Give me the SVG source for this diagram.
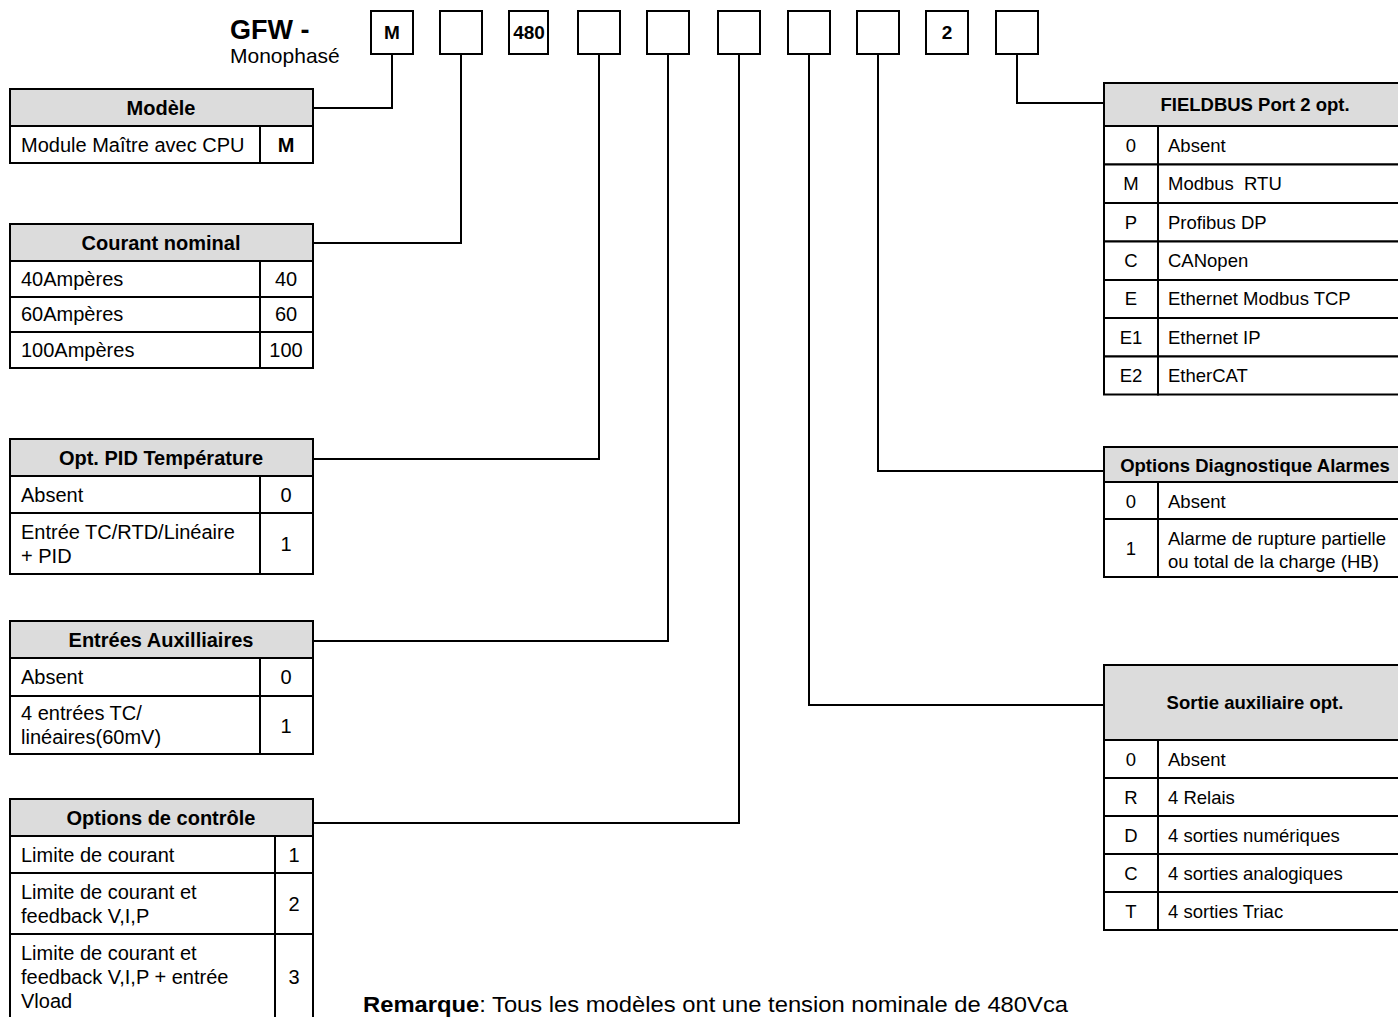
<svg xmlns="http://www.w3.org/2000/svg" width="1398" height="1017" viewBox="0 0 1398 1017">
<style>
text{font-family:"Liberation Sans",Arial,sans-serif;fill:#000}
.b{font-weight:bold}
.t{font-size:20px}
.tr{font-size:18.5px}
.h{font-size:20px;font-weight:bold}
.hr{font-size:18.5px;font-weight:bold}
.box{fill:#fff;stroke:#000;stroke-width:2}
.hd{fill:#dcdcdc;stroke:#000;stroke-width:2}
.cell{fill:#fff;stroke:#000;stroke-width:2}
.ln{fill:none;stroke:#000;stroke-width:2}
.c{text-anchor:middle}
</style>
<rect width="1398" height="1017" fill="#fff"/>
<g id="title">
<text x="230" y="39" class="b" style="font-size:27px">GFW -</text>
<text x="230" y="63" style="font-size:21px">Monophasé</text>
</g>
<g id="code">
<rect class="box" x="371" y="11" width="42" height="43"/><text x="392" y="39" class="b c" style="font-size:19px">M</text>
<rect class="box" x="440" y="11" width="42" height="43"/>
<rect class="box" x="509" y="11" width="39" height="43"/><text x="529" y="39" class="b c" style="font-size:19px">480</text>
<rect class="box" x="578" y="11" width="42" height="43"/>
<rect class="box" x="647" y="11" width="42" height="43"/>
<rect class="box" x="718" y="11" width="42" height="43"/>
<rect class="box" x="788" y="11" width="42" height="43"/>
<rect class="box" x="857" y="11" width="42" height="43"/>
<rect class="box" x="926" y="11" width="42" height="43"/><text x="947" y="39" class="b c" style="font-size:19px">2</text>
<rect class="box" x="996" y="11" width="42" height="43"/>
</g>
<g id="connectors">
<polyline class="ln" points="392,54 392,108 313,108"/>
<polyline class="ln" points="461,54 461,243 313,243"/>
<polyline class="ln" points="599,54 599,459 313,459"/>
<polyline class="ln" points="668,54 668,641 313,641"/>
<polyline class="ln" points="739,54 739,823 313,823"/>
<polyline class="ln" points="809,54 809,705 1104,705"/>
<polyline class="ln" points="878,54 878,471 1104,471"/>
<polyline class="ln" points="1017,54 1017,103 1104,103"/>
</g>
<g id="modele">
<rect class="hd" x="10" y="89" width="303" height="37"/>
<text x="161" y="115" class="h c">Modèle</text>
<rect class="cell" x="10" y="126" width="250" height="37"/><rect class="cell" x="260" y="126" width="53" height="37"/>
<text x="21" y="152" class="t">Module Maître avec CPU</text><text x="286" y="152" class="t b c">M</text>
</g>
<g id="courant">
<rect class="hd" x="10" y="224" width="303" height="37"/>
<text x="161" y="250" class="h c">Courant nominal</text>
<rect class="cell" x="10" y="261" width="250" height="36"/><rect class="cell" x="260" y="261" width="53" height="36"/>
<text x="21" y="286" class="t">40Ampères</text><text x="286" y="286" class="t c">40</text>
<rect class="cell" x="10" y="297" width="250" height="35"/><rect class="cell" x="260" y="297" width="53" height="35"/>
<text x="21" y="321" class="t">60Ampères</text><text x="286" y="321" class="t c">60</text>
<rect class="cell" x="10" y="332" width="250" height="36"/><rect class="cell" x="260" y="332" width="53" height="36"/>
<text x="21" y="357" class="t">100Ampères</text><text x="286" y="357" class="t c">100</text>
</g>
<g id="pid">
<rect class="hd" x="10" y="439" width="303" height="37"/>
<text x="161" y="465" class="h c">Opt. PID Température</text>
<rect class="cell" x="10" y="476" width="250" height="37"/><rect class="cell" x="260" y="476" width="53" height="37"/>
<text x="21" y="502" class="t">Absent</text><text x="286" y="502" class="t c">0</text>
<rect class="cell" x="10" y="513" width="250" height="61"/><rect class="cell" x="260" y="513" width="53" height="61"/>
<text x="21" y="539" class="t">Entrée TC/RTD/Linéaire</text><text x="21" y="563" class="t">+ PID</text><text x="286" y="551" class="t c">1</text>
</g>
<g id="aux">
<rect class="hd" x="10" y="621" width="303" height="37"/>
<text x="161" y="647" class="h c">Entrées Auxilliaires</text>
<rect class="cell" x="10" y="658" width="250" height="38"/><rect class="cell" x="260" y="658" width="53" height="38"/>
<text x="21" y="684" class="t">Absent</text><text x="286" y="684" class="t c">0</text>
<rect class="cell" x="10" y="696" width="250" height="58"/><rect class="cell" x="260" y="696" width="53" height="58"/>
<text x="21" y="720" class="t">4 entrées TC/</text><text x="21" y="744" class="t">linéaires(60mV)</text><text x="286" y="733" class="t c">1</text>
</g>
<g id="controle">
<rect class="hd" x="10" y="799" width="303" height="37"/>
<text x="161" y="825" class="h c">Options de contrôle</text>
<rect class="cell" x="10" y="836" width="265" height="37"/><rect class="cell" x="275" y="836" width="38" height="37"/>
<text x="21" y="862" class="t">Limite de courant</text><text x="294" y="862" class="t c">1</text>
<rect class="cell" x="10" y="873" width="265" height="61"/><rect class="cell" x="275" y="873" width="38" height="61"/>
<text x="21" y="899" class="t">Limite de courant et</text><text x="21" y="923" class="t">feedback V,I,P</text><text x="294" y="911" class="t c">2</text>
<rect class="cell" x="10" y="934" width="265" height="92"/><rect class="cell" x="275" y="934" width="38" height="92"/>
<text x="21" y="960" class="t">Limite de courant et</text><text x="21" y="984" class="t">feedback V,I,P + entrée</text><text x="21" y="1008" class="t">Vload</text><text x="294" y="984" class="t c">3</text>
</g>
<g id="fieldbus">
<rect class="hd" x="1104" y="83" width="302" height="43"/>
<text x="1255" y="111" class="hr c">FIELDBUS Port 2 opt.</text>
<rect class="cell" x="1104" y="126" width="54" height="38.5"/><rect class="cell" x="1158" y="126" width="248" height="38.5"/>
<text x="1131" y="152" class="tr c">0</text><text x="1168" y="152" class="tr">Absent</text>
<rect class="cell" x="1104" y="164.5" width="54" height="38.5"/><rect class="cell" x="1158" y="164.5" width="248" height="38.5"/>
<text x="1131" y="190" class="tr c">M</text><text x="1168" y="190" class="tr" style="white-space:pre">Modbus  RTU</text>
<rect class="cell" x="1104" y="203" width="54" height="38.5"/><rect class="cell" x="1158" y="203" width="248" height="38.5"/>
<text x="1131" y="229" class="tr c">P</text><text x="1168" y="229" class="tr">Profibus DP</text>
<rect class="cell" x="1104" y="241.5" width="54" height="38.5"/><rect class="cell" x="1158" y="241.5" width="248" height="38.5"/>
<text x="1131" y="267" class="tr c">C</text><text x="1168" y="267" class="tr">CANopen</text>
<rect class="cell" x="1104" y="280" width="54" height="38"/><rect class="cell" x="1158" y="280" width="248" height="38"/>
<text x="1131" y="305" class="tr c">E</text><text x="1168" y="305" class="tr">Ethernet Modbus TCP</text>
<rect class="cell" x="1104" y="318" width="54" height="38.5"/><rect class="cell" x="1158" y="318" width="248" height="38.5"/>
<text x="1131" y="344" class="tr c">E1</text><text x="1168" y="344" class="tr">Ethernet IP</text>
<rect class="cell" x="1104" y="356.5" width="54" height="38"/><rect class="cell" x="1158" y="356.5" width="248" height="38"/>
<text x="1131" y="382" class="tr c">E2</text><text x="1168" y="382" class="tr">EtherCAT</text>
</g>
<g id="diagnostique">
<rect class="hd" x="1104" y="447" width="302" height="35"/>
<text x="1255" y="472" class="hr c">Options Diagnostique Alarmes</text>
<rect class="cell" x="1104" y="482" width="54" height="37"/><rect class="cell" x="1158" y="482" width="248" height="37"/>
<text x="1131" y="508" class="tr c">0</text><text x="1168" y="508" class="tr">Absent</text>
<rect class="cell" x="1104" y="519" width="54" height="58"/><rect class="cell" x="1158" y="519" width="248" height="58"/>
<text x="1131" y="555" class="tr c">1</text><text x="1168" y="545" class="tr">Alarme de rupture partielle</text><text x="1168" y="568" class="tr">ou total de la charge (HB)</text>
</g>
<g id="sortie">
<rect class="hd" x="1104" y="665" width="302" height="75"/>
<text x="1255" y="709" class="hr c">Sortie auxiliaire opt.</text>
<rect class="cell" x="1104" y="740" width="54" height="38"/><rect class="cell" x="1158" y="740" width="248" height="38"/>
<text x="1131" y="766" class="tr c">0</text><text x="1168" y="766" class="tr">Absent</text>
<rect class="cell" x="1104" y="778" width="54" height="38"/><rect class="cell" x="1158" y="778" width="248" height="38"/>
<text x="1131" y="804" class="tr c">R</text><text x="1168" y="804" class="tr">4 Relais</text>
<rect class="cell" x="1104" y="816" width="54" height="38"/><rect class="cell" x="1158" y="816" width="248" height="38"/>
<text x="1131" y="842" class="tr c">D</text><text x="1168" y="842" class="tr">4 sorties numériques</text>
<rect class="cell" x="1104" y="854" width="54" height="38"/><rect class="cell" x="1158" y="854" width="248" height="38"/>
<text x="1131" y="880" class="tr c">C</text><text x="1168" y="880" class="tr">4 sorties analogiques</text>
<rect class="cell" x="1104" y="892" width="54" height="38"/><rect class="cell" x="1158" y="892" width="248" height="38"/>
<text x="1131" y="918" class="tr c">T</text><text x="1168" y="918" class="tr">4 sorties Triac</text>
</g>
<g id="note">
<text x="363" y="1012" style="font-size:22px" textLength="705" lengthAdjust="spacingAndGlyphs"><tspan class="b">Remarque</tspan>: Tous les modèles ont une tension nominale de 480Vca</text>
</g>
</svg>
